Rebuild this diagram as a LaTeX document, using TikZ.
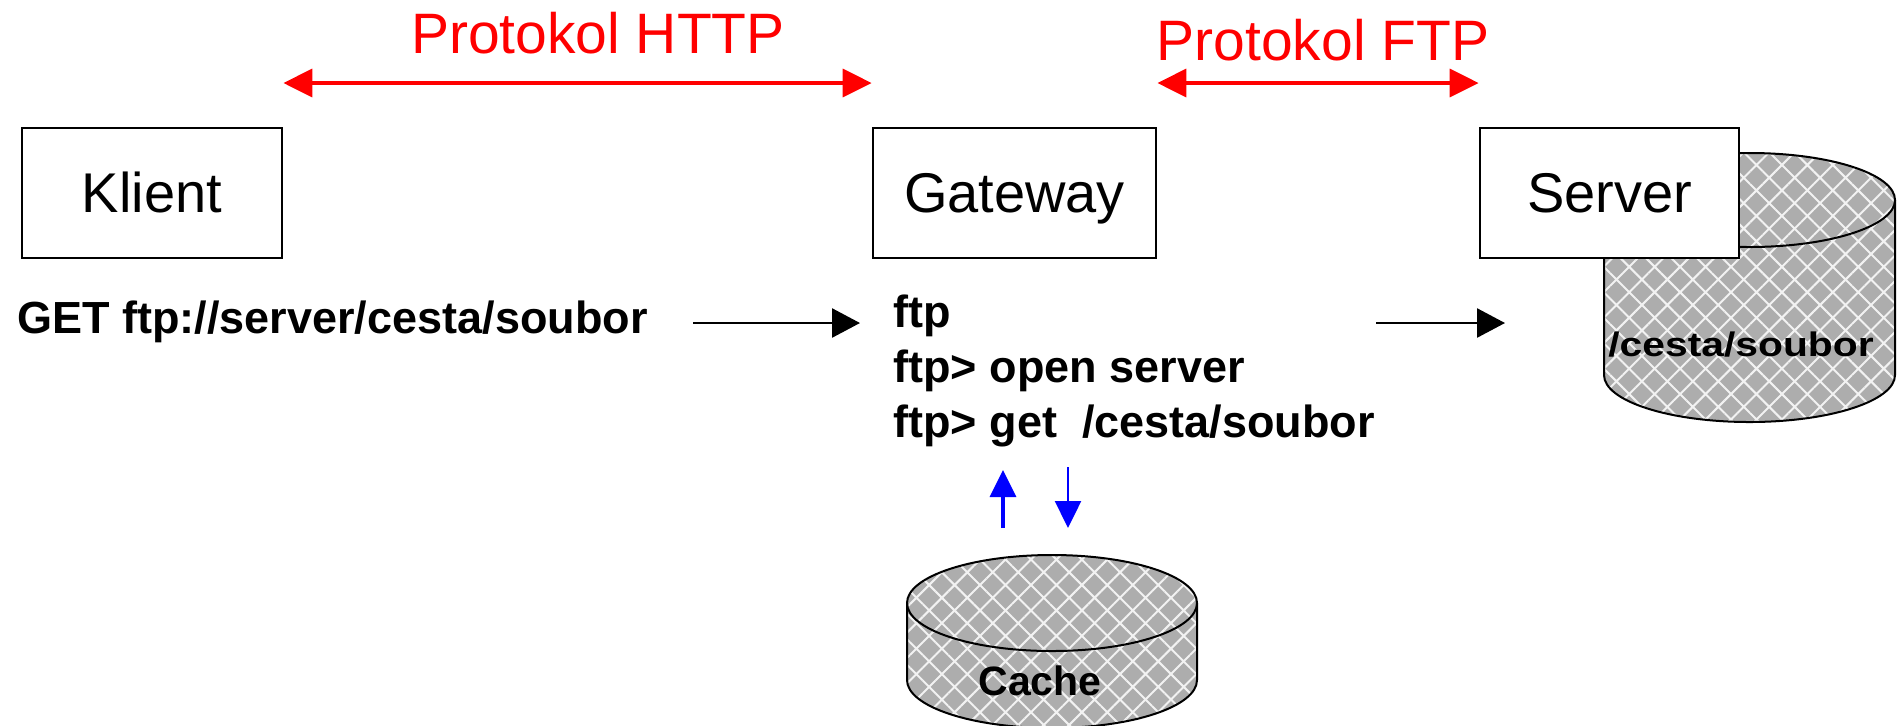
\documentclass[tikz,border=0pt]{standalone}
\usepackage{fontspec}
\setmainfont{Liberation Sans}
\usetikzlibrary{arrows.meta,patterns.meta}
\definecolor{hatchgray}{gray}{0.68}
\definecolor{hatchline}{gray}{0.95}
\newcommand{\mycyl}[5]{%
  \fill[cylfill] ({#1-#2},{#3}) -- ({#1-#2},{#4})
    .. controls ({#1-#2},{#4+0.5523*#5}) and ({#1-0.5523*#2},{#4+#5}) .. ({#1},{#4+#5})
    .. controls ({#1+0.5523*#2},{#4+#5}) and ({#1+#2},{#4+0.5523*#5}) .. ({#1+#2},{#4})
    -- ({#1+#2},{#3})
    .. controls ({#1+#2},{#3-0.5523*#5}) and ({#1+0.5523*#2},{#3-#5}) .. ({#1},{#3-#5})
    .. controls ({#1-0.5523*#2},{#3-#5}) and ({#1-#2},{#3-0.5523*#5}) .. ({#1-#2},{#3}) -- cycle;
  \draw[cylline] ({#1-#2},{#3}) -- ({#1-#2},{#4})
    .. controls ({#1-#2},{#4+0.5523*#5}) and ({#1-0.5523*#2},{#4+#5}) .. ({#1},{#4+#5})
    .. controls ({#1+0.5523*#2},{#4+#5}) and ({#1+#2},{#4+0.5523*#5}) .. ({#1+#2},{#4})
    -- ({#1+#2},{#3});
  \draw[cylline] ({#1},{#3}) ellipse [x radius=#2, y radius=#5];
}
\begin{document}
\begin{tikzpicture}[x=0.5pt,y=-0.5pt,
  box/.style={draw, line width=1.4pt, fill=white, inner sep=0pt, text height=19pt, text depth=0pt,
    font=\fontsize{28pt}{32pt}\selectfont},
  proto/.style={text=red, inner sep=0pt, anchor=base, font=\fontsize{28.5pt}{32pt}\selectfont},
  cmd/.style={inner sep=0pt, anchor=base west, font=\fontsize{22.5pt}{26pt}\selectfont\bfseries},
  redarrow/.style={draw=red, line width=1.8pt,
    arrows={Triangle[length=14.5pt,width=14pt]-Triangle[length=14.5pt,width=14pt]}},
  blkarrow/.style={draw=black, line width=1.3pt, arrows={-Triangle[length=14pt,width=14.5pt]}},
  bluearrow/.style={draw=blue, arrows={-Triangle[length=13.5pt,width=13pt]}},
  cylfill/.style={fill=hatchgray,
    postaction={pattern={Hatch[angle=45,distance=9pt,line width=1pt]}, pattern color=hatchline}},
  cylline/.style={draw=black, line width=1pt}
]
\useasboundingbox (0,0) rectangle (1899,725);
\clip (0,0) rectangle (1899,725);

% storage cylinders
\mycyl{1749.5}{145.5}{200}{375}{47}
\mycyl{1052}{145}{603}{680}{48}

% boxes
\node[box, minimum width=130pt, minimum height=65pt] (klient) at (152,193) {Klient};
\node[box, minimum width=141.5pt, minimum height=65pt] (gateway) at (1014.5,193) {Gateway};
\node[box, minimum width=129.5pt, minimum height=65pt] (server) at (1609.5,193) {Server};

% protocol labels and arrows
\node[proto] (http) at (598,53) {Protokol HTTP};
\node[proto] (ftp) at (1323,60) {Protokol FTP};
\coordinate (hy) at (0,83);
\draw[redarrow] (klient.east |- hy) -- (gateway.west |- hy);
\draw[redarrow] (gateway.east |- hy) -- (server.west |- hy);

% commands
\node[cmd] (get) at (17,333) {GET ftp://server/cesta/soubor};
\node[cmd] (ftp1) at (893,327) {ftp};
\node[cmd] (ftp2) at (893,382) {ftp> open server};
\node[cmd] (ftp3) at (893,437) {ftp> get\ \ /cesta/soubor};

\coordinate (a1s) at (693,323);
\coordinate (a1e) at (860,323);
\coordinate (a2s) at (1376,323);
\coordinate (a2e) at (1505,323);
\draw[blkarrow] (a1s) -- (a1e);
\draw[blkarrow] (a2s) -- (a2e);

% cylinder labels
\node[inner sep=0pt, anchor=base, font=\fontsize{17pt}{20pt}\selectfont\bfseries] (srvpath) at (1741,356)
  {\scalebox{1.2}[1]{/cesta/soubor}};
\node[inner sep=0pt, anchor=base, font=\fontsize{20.5pt}{24pt}\selectfont\bfseries] (cache) at (1040,695) {Cache};

% cache arrows
\coordinate (u1) at (1003,528);
\coordinate (u2) at (1003,470);
\coordinate (d1) at (1068,467);
\coordinate (d2) at (1068,528);
\draw[bluearrow, line width=1.6pt] (u1) -- (u2);
\draw[bluearrow, line width=1.2pt] (d1) -- (d2);
\end{tikzpicture}
\end{document}
